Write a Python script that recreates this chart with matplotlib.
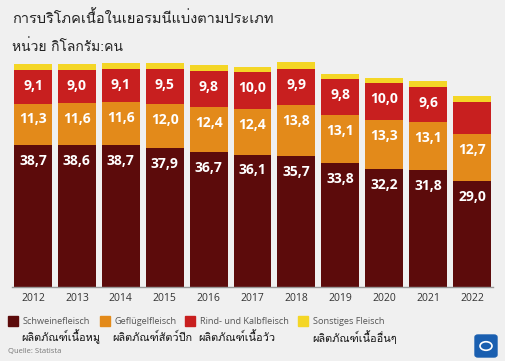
import matplotlib
matplotlib.use('Agg')
import matplotlib.pyplot as plt
import numpy as np
from matplotlib import font_manager
from matplotlib.ft2font import FT2Font
from matplotlib.patches import FancyBboxPatch, Circle, Rectangle

# Data (kg per person)
years = ['2012', '2013', '2014', '2015', '2016', '2017', '2018', '2019', '2020', '2021', '2022']
pork = [38.7, 38.6, 38.7, 37.9, 36.7, 36.1, 35.7, 33.8, 32.2, 31.8, 29.0]
poultry = [11.3, 11.6, 11.6, 12.0, 12.4, 12.4, 13.8, 13.1, 13.3, 13.1, 12.7]
beef = [9.1, 9.0, 9.1, 9.5, 9.8, 10.0, 9.9, 9.8, 10.0, 9.6, 8.6]
other = [1.6, 1.6, 1.7, 1.7, 1.6, 1.5, 1.8, 1.4, 1.5, 1.5, 1.7]
beef_labeled = [True] * 10 + [False]

series_de = ['Schweinefleisch', 'Geflügelfleisch', 'Rind- und Kalbfleisch', 'Sonstiges Fleisch']
series_th = ['ผลิตภัณฑ์เนื้อหมู', 'ผลิตภัณฑ์สัตว์ปีก', 'ผลิตภัณฑ์เนื้อวัว', 'ผลิตภัณฑ์เนื้ออื่นๆ']
colors = ['#5c0b0b', '#e38a1a', '#c81f1f', '#f4d626']
title = 'การบริโภคเนื้อในเยอรมนีแบ่งตามประเภท'
subtitle = 'หน่วย กิโลกรัม:คน'
source = 'Quelle: Statista'


def find_thai_font():
    for f in font_manager.fontManager.ttflist:
        try:
            if 0x0E01 in FT2Font(f.fname).get_charmap():
                return f.name
        except Exception:
            pass
    return 'DejaVu Sans'


thai_font = find_thai_font()
plt.rcParams['font.family'] = ['Open Sans', 'DejaVu Sans']

W, H = 506, 361
BG = '#f0f0f0'
fig = plt.figure(figsize=(W / 100, H / 100), dpi=100, facecolor=BG)


def px(x, y):
    return x / W, 1 - y / H


ax = fig.add_axes([12 / W, 74 / H, (493 - 12) / W, (287 - 60) / H])
ax.set_facecolor(BG)
x = np.arange(len(years))
bw = 0.865

bottom = np.zeros(len(years))
for vals, col in zip([pork, poultry, beef, other], colors):
    ax.bar(x, vals, bw, bottom=bottom, color=col, linewidth=0, zorder=2)
    bottom = bottom + np.array(vals)

# value labels near top of segments
def label_seg(vals, base, show=None):
    for i, v in enumerate(vals):
        if show is not None and not show[i]:
            continue
        top = base[i] + v
        ax.annotate(f'{v:.1f}'.replace('.', ','), (x[i], top), xytext=(0, -11.5),
                    textcoords='offset points', ha='center', va='center',
                    color='white', fontsize=10, fontweight='bold', zorder=3)

base = np.zeros(len(years))
label_seg(pork, base)
base = base + np.array(pork)
label_seg(poultry, base)
base = base + np.array(poultry)
label_seg(beef, base, beef_labeled)

ax.set_xlim(-0.478, len(years) - 1 + 0.478)
ax.set_ylim(0, (287 - 60) / 3.67)
for s in ['top', 'right', 'left']:
    ax.spines[s].set_visible(False)
ax.spines['bottom'].set_color('#999999')
ax.spines['bottom'].set_linewidth(1.0)
ax.set_yticks([])
ax.set_xticks(x)
ax.set_xticklabels(years, fontsize=7.5, color='#333333')
ax.tick_params(axis='x', length=0, pad=4)

fig.text(*px(12, 18), title, fontsize=10.5, family=[thai_font, 'DejaVu Sans'],
         color='#222222', va='center', ha='left')
fig.text(*px(12, 47), subtitle, fontsize=10, family=[thai_font, 'DejaVu Sans'],
         color='#222222', va='center', ha='left')

# legend
sq_x = [8, 100, 185, 298]
th_x = [21, 112, 198, 312]
for i in range(4):
    fig.patches.append(Rectangle(px(sq_x[i], 326), 10 / W, 10 / H,
                                 transform=fig.transFigure, color=colors[i]))
    fig.text(*px(sq_x[i] + 15, 321), series_de[i], fontsize=6.6, color='#555555',
             va='center', ha='left')
    fig.text(*px(th_x[i], 337), series_th[i], fontsize=7.9,
             family=[thai_font, 'DejaVu Sans'], color='#111111', va='center', ha='left')

fig.text(*px(8, 352), source, fontsize=5.5, color='#777777', va='center', ha='left')

# logo
fig.patches.append(FancyBboxPatch(px(475, 357), 22 / W, 22 / H,
                                  boxstyle='round,pad=0,rounding_size=0.006',
                                  transform=fig.transFigure, color='#1a5fb0'))
lx, ly = px(486, 346)
fig.patches.append(Circle((lx, ly), 6 / W, transform=fig.transFigure,
                          facecolor='none', edgecolor='white', linewidth=1.2))

fig.savefig('out.png', dpi=100, facecolor=BG)
